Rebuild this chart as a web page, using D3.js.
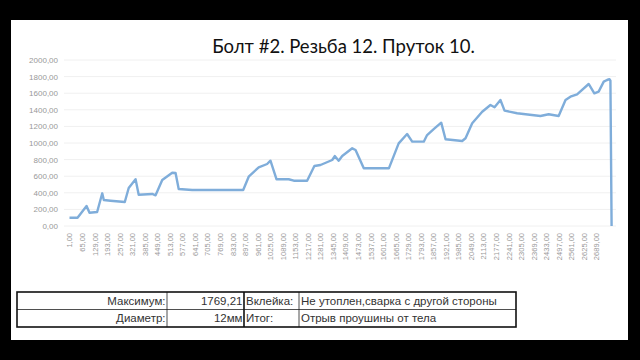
<!DOCTYPE html>
<html>
<head>
<meta charset="utf-8">
<script src="https://cdn.jsdelivr.net/npm/d3@7"></script>
<style>
  body { margin: 0; background: #000; }
  svg { display: block; }
</style>
</head>
<body>
<script>
const idx = [1, 42, 88, 103, 142, 168, 176, 210, 283, 303, 338, 354, 423, 440, 474, 525, 542, 558, 627, 887,
  915, 966, 1009, 1026, 1057, 1119, 1145, 1213, 1250, 1281, 1341, 1354, 1374, 1392, 1443, 1460, 1502, 1630,
  1680, 1723, 1749, 1808, 1825, 1860, 1897, 1919, 2004, 2021, 2055, 2106, 2148, 2169, 2199, 2220, 2284, 2403,
  2445, 2496, 2531, 2556, 2590, 2649, 2678, 2700, 2726, 2743, 2755, 2760, 2766];
const load = [100, 100, 241, 160, 168, 394, 313, 305, 289, 458, 563, 377, 386, 370, 554, 642, 639, 446, 434, 434,
  594, 707, 747, 787, 563, 563, 546, 546, 723, 735, 795, 843, 787, 843, 936, 916, 695, 695,
  996, 1108, 1016, 1016, 1096, 1170, 1245, 1045, 1024, 1057, 1237, 1377, 1458, 1430, 1518, 1390, 1358, 1325,
  1346, 1325, 1518, 1558, 1587, 1711, 1599, 1619, 1739, 1759, 1769.21, 1750, 0];
const xTicks = d3.range(1, 2690, 64);
const yTicks = [0, 200, 400, 600, 800, 1000, 1200, 1400, 1600, 1800, 2000];

const title = "Болт #2. Резьба 12. Пруток 10.";
const tableRows = [
  ["Максимум:", "1769,21", "Вклейка:", "Не утоплен,сварка с другой стороны"],
  ["Диаметр:", "12мм", "Итог:", "Отрыв проушины от тела"]
];

const w = 640;
const h = 360;

const svg = d3.select("body").append("svg").attr("width", w).attr("height", h);

// white sheet
svg.append("rect").attr("x", 11).attr("y", 20).attr("width", 617).attr("height", 320).attr("fill", "#fff");

const xScale = d3.scaleLinear().domain([1, 2689]).range([69.5, 596.5]);
const yScale = d3.scaleLinear().domain([0, 2000]).range([226, 60]);

const fmt = (v) => d3.format(".2f")(v).replace(".", ",");

// gridlines
svg.append("g")
  .selectAll("line")
  .data(yTicks)
  .enter()
  .append("line")
  .attr("x1", 64)
  .attr("x2", 616)
  .attr("y1", (d) => yScale(d))
  .attr("y2", (d) => yScale(d))
  .attr("stroke", "#f0f0f0")
  .attr("stroke-width", 1);

// y axis labels
const yAxis = d3.axisLeft(yScale).tickValues(yTicks).tickFormat(fmt).tickSize(0).tickPadding(0);
const gy = svg.append("g").attr("transform", "translate(58,0)").call(yAxis);
gy.select(".domain").remove();
gy.selectAll("text").attr("fill", "#999").style("font", "8px 'Liberation Sans', sans-serif");

// x axis labels (rotated)
const xAxis = d3.axisBottom(xScale).tickValues(xTicks).tickFormat(fmt).tickSize(0);
const gx = svg.append("g").attr("transform", "translate(0,231)").call(xAxis);
gx.select(".domain").remove();
gx.selectAll("text")
  .attr("fill", "#999")
  .style("font", "7.5px 'Liberation Sans', sans-serif")
  .attr("transform", "rotate(-90)")
  .attr("text-anchor", "end")
  .attr("x", -2)
  .attr("y", 0)
  .attr("dy", "0.32em");

// line
const line = d3.line()
  .x((d, i) => xScale(idx[i]))
  .y((d) => yScale(d));

svg.append("path")
  .datum(load)
  .attr("d", line)
  .attr("fill", "none")
  .attr("stroke", "#7fadda")
  .attr("stroke-width", 2.4)
  .attr("stroke-linejoin", "round");

// title
svg.append("text")
  .attr("x", 343.5)
  .attr("y", 53)
  .attr("text-anchor", "middle")
  .attr("fill", "#111")
  .style("font", "18.5px Lato, sans-serif")
  .text(title);

// table
const colX = [17, 167, 244, 299, 516];
const rowY = [292, 309.5, 327];
const tbl = svg.append("g");

tableRows.forEach((row, r) => {
  const y = (rowY[r] + rowY[r + 1]) / 2 + 4;
  row.forEach((txt, c) => {
    const right = c < 2;
    tbl.append("text")
      .attr("x", right ? colX[c + 1] - 1.5 : colX[c] + 2)
      .attr("y", y)
      .attr("text-anchor", right ? "end" : "start")
      .attr("fill", "#333")
      .style("font", "11.5px 'Liberation Sans', sans-serif")
      .text(txt);
  });
});

// inner lines
tbl.append("line").attr("x1", colX[0]).attr("x2", colX[4]).attr("y1", rowY[1]).attr("y2", rowY[1])
  .attr("stroke", "#222").attr("stroke-width", 0.8);
[colX[1], colX[3]].forEach((x) => {
  tbl.append("line").attr("x1", x).attr("x2", x).attr("y1", rowY[0]).attr("y2", rowY[2])
    .attr("stroke", "#222").attr("stroke-width", 0.8);
});
tbl.append("line").attr("x1", colX[2]).attr("x2", colX[2]).attr("y1", rowY[0]).attr("y2", rowY[2])
  .attr("stroke", "#111").attr("stroke-width", 1.6);
tbl.append("rect")
  .attr("x", colX[0]).attr("y", rowY[0])
  .attr("width", colX[4] - colX[0]).attr("height", rowY[2] - rowY[0])
  .attr("fill", "none").attr("stroke", "#111").attr("stroke-width", 1.6);
</script>
</body>
</html>
